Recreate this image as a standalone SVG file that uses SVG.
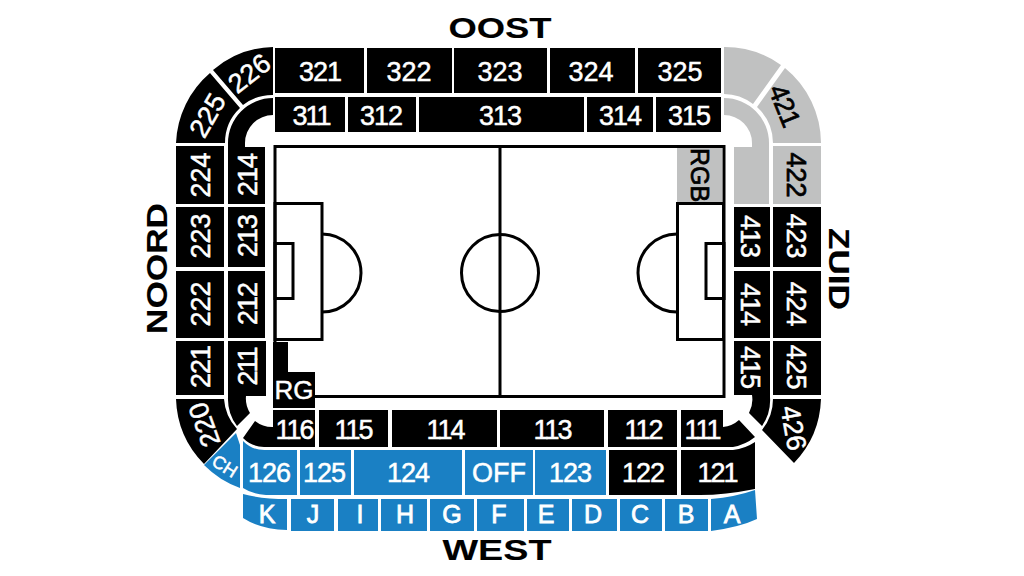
<svg xmlns="http://www.w3.org/2000/svg" width="1024" height="576" viewBox="0 0 1024 576">
<style>
.k{fill:#000}.b{fill:#1a80c4}.g{fill:#c0c1c1}
.l{fill:none;stroke:#000;stroke-width:3}
text{font-family:"Liberation Sans",Arial,sans-serif;text-anchor:middle}
.n{font-size:27px;fill:#fff;stroke:#fff;stroke-width:.5}
.d{font-size:27px;fill:#000;stroke:#000;stroke-width:.7}
.t{font-size:29px;font-weight:700;fill:#000;stroke:#000;stroke-width:.1}
.s{font-size:18px}.m{font-size:25px;stroke-width:.8}
.o{letter-spacing:-1px}.w{letter-spacing:-2px}
</style>
<rect width="1024" height="576" fill="#fff"/>
<g id="pitch">
<rect class="g" x="677" y="147" width="45" height="56"/>
<path class="k" d="M275 342H288V372H315V408H273V342Z"/>
<rect class="l" x="275" y="146.500" width="449" height="250"/>
<rect class="l" x="275" y="203.500" width="47" height="136"/>
<rect class="l" x="275" y="243.500" width="18" height="55"/>
<path class="l" d="M322 234A39 39 0 0 1 322 312"/>
<rect class="l" x="677.500" y="203.500" width="46" height="136"/>
<rect class="l" x="706" y="243.500" width="18" height="55"/>
<path class="l" d="M677 234A39 39 0 0 0 677 312"/>
<path class="l" d="M500 147V396"/>
<circle class="l" cx="500" cy="273" r="38.500"/>
<text class="d" transform="translate(700 175) rotate(90)" dy=".36em" style="font-size:25px">RGB</text>
<text class="n" transform="translate(294 390)" dy=".36em" style="font-size:26px">RG</text>
</g>
<g id="titles">
<text class="t" x="500" y="38" textLength="103" lengthAdjust="spacingAndGlyphs">OOST</text>
<text class="t" x="497" y="560" textLength="109" lengthAdjust="spacingAndGlyphs">WEST</text>
<text class="t" transform="translate(167 268.500) rotate(-90)" textLength="131" lengthAdjust="spacingAndGlyphs">NOORD</text>
<text class="t" transform="translate(829 269) rotate(90)" textLength="82" lengthAdjust="spacingAndGlyphs">ZUID</text>
</g>
<g id="s321"><rect class="k" x="275" y="48" width="89" height="45"/><text class="n o" x="320" y="71" dy=".36em">321</text></g>
<g id="s322"><rect class="k" x="367" y="48" width="85" height="45"/><text class="n" x="409" y="71" dy=".36em">322</text></g>
<g id="s323"><rect class="k" x="454" y="48" width="93" height="45"/><text class="n" x="500" y="71" dy=".36em">323</text></g>
<g id="s324"><rect class="k" x="550" y="48" width="85" height="45"/><text class="n" x="591" y="71" dy=".36em">324</text></g>
<g id="s325"><rect class="k" x="638" y="48" width="83" height="45"/><text class="n" x="680" y="71" dy=".36em">325</text></g>
<g id="s311"><rect class="k" x="275" y="97" width="70" height="35"/><text class="n w" x="311" y="115" dy=".36em">311</text></g>
<g id="s312"><rect class="k" x="348" y="97" width="68" height="35"/><text class="n o" x="381" y="115" dy=".36em">312</text></g>
<g id="s313"><rect class="k" x="419" y="97" width="165" height="35"/><text class="n o" x="500" y="115" dy=".36em">313</text></g>
<g id="s314"><rect class="k" x="587" y="97" width="66" height="35"/><text class="n o" x="620" y="115" dy=".36em">314</text></g>
<g id="s315"><rect class="k" x="656" y="97" width="65" height="35"/><text class="n o" x="689" y="115" dy=".36em">315</text></g>
<g id="s226"><path class="k" d="M273 47A96 96 0 0 0 213 70L243 105A48 48 0 0 1 273 95Z"/><text class="n" transform="translate(249 73) rotate(-38)" dy=".36em">226</text></g>
<g id="s225"><path class="k" d="M176 143A97 97 0 0 1 210 73L240 108A48 48 0 0 0 225 143Z"/><text class="n" transform="translate(207 115) rotate(-60)" dy=".36em">225</text></g>
<g id="s224"><rect class="k" x="176" y="146" width="48" height="58"/><text class="n" transform="translate(200 175) rotate(-90)" dy=".36em">224</text></g>
<g id="s223"><rect class="k" x="176" y="207" width="48" height="60"/><text class="n" transform="translate(200 236) rotate(-90)" dy=".36em">223</text></g>
<g id="s222"><rect class="k" x="176" y="271" width="48" height="67"/><text class="n" transform="translate(200 304) rotate(-90)" dy=".36em">222</text></g>
<g id="s221"><rect class="k" x="176" y="341" width="48" height="54"/><text class="n o" transform="translate(200 367) rotate(-90)" dy=".36em">221</text></g>
<g id="s220"><path class="k" d="M176 399H224A49 49 0 0 0 237 429L204 464A97 97 0 0 1 176 399Z"/><text class="n" transform="translate(204 425) rotate(-110)" dy=".36em">220</text></g>
<g id="s214"><path class="k" d="M273 98A45 45 0 0 0 228 143V204H265V147H245V143A28 28 0 0 1 273 115Z"/><text class="n o" transform="translate(247 175) rotate(-90)" dy=".36em">214</text></g>
<g id="s213"><rect class="k" x="228" y="207" width="37" height="60"/><text class="n o" transform="translate(247 236) rotate(-90)" dy=".36em">213</text></g>
<g id="s212"><rect class="k" x="228" y="271" width="37" height="67"/><text class="n o" transform="translate(247 304) rotate(-90)" dy=".36em">212</text></g>
<g id="s211"><path class="k" d="M228 341H266V396H246A27 27 0 0 0 250 413L237 426A45 45 0 0 1 228 397Z"/><text class="n w" transform="translate(247 367) rotate(-90)" dy=".36em">211</text></g>
<g id="s421b"><path class="g" d="M724 47A97 97 0 0 1 781 65L753 104A49 49 0 0 0 724 94Z"/></g>
<g id="s421"><path class="g" d="M821 143A97 97 0 0 0 785 68L757 107A49 49 0 0 1 773 143Z"/><text class="d o" transform="translate(785 105) rotate(68)" dy=".36em">421</text></g>
<g id="s411"><path class="g" d="M724 98A45 45 0 0 1 769 143V204H734V147H752V143A28 28 0 0 0 724 115Z"/></g>
<g id="s422"><rect class="g" x="773" y="146" width="48" height="58"/><text class="d" transform="translate(797 175) rotate(90)" dy=".36em">422</text></g>
<g id="s423"><rect class="k" x="773" y="207" width="48" height="60"/><text class="n" transform="translate(797 236) rotate(90)" dy=".36em">423</text></g>
<g id="s424"><rect class="k" x="773" y="271" width="48" height="67"/><text class="n" transform="translate(797 304) rotate(90)" dy=".36em">424</text></g>
<g id="s425"><rect class="k" x="773" y="341" width="48" height="54"/><text class="n" transform="translate(797 367) rotate(90)" dy=".36em">425</text></g>
<g id="s426"><path class="k" d="M773 399H821A97 97 0 0 1 794 463L762 430A49 49 0 0 0 773 399Z"/><text class="n" transform="translate(794 428) rotate(80)" dy=".36em">426</text></g>
<g id="s413"><rect class="k" x="734" y="207" width="36" height="60"/><text class="n o" transform="translate(751 236) rotate(90)" dy=".36em">413</text></g>
<g id="s414"><rect class="k" x="734" y="271" width="36" height="67"/><text class="n o" transform="translate(751 304) rotate(90)" dy=".36em">414</text></g>
<g id="s415"><path class="k" d="M734 341H770V397A45 45 0 0 1 762 426L749 413A28 28 0 0 0 752 395H734Z"/><text class="n o" transform="translate(751 367) rotate(90)" dy=".36em">415</text></g>
<g id="s116"><path class="k" d="M273 410H315V447H264A30 30 0 0 1 243 438L255 421A28 28 0 0 0 273 427Z"/><text class="n w" x="294" y="429" dy=".36em">116</text></g>
<g id="s115"><rect class="k" x="319" y="410" width="69" height="37"/><text class="n w" x="353" y="429" dy=".36em">115</text></g>
<g id="s114"><rect class="k" x="392" y="410" width="105" height="37"/><text class="n w" x="445" y="429" dy=".36em">114</text></g>
<g id="s113"><rect class="k" x="500" y="410" width="104" height="37"/><text class="n w" x="552" y="429" dy=".36em">113</text></g>
<g id="s112"><rect class="k" x="608" y="410" width="69" height="37"/><text class="n w" x="643" y="429" dy=".36em">112</text></g>
<g id="s111"><path class="k" d="M681 410H723V427A28 28 0 0 0 739 420L755 437A49 49 0 0 1 733 447H681Z"/><text class="n w" x="702" y="429" dy=".36em">111</text></g>
<g id="sCH"><path class="b" d="M236 433L240 445V488A97 97 0 0 1 204 465Z"/><text class="n s" transform="translate(225 466) rotate(32)" dy=".36em">CH</text></g>
<g id="s126"><path class="b" d="M243 441A30 30 0 0 0 265 450H297V495H266Q252 494 243 488Z"/><text class="n o" x="269" y="472" dy=".36em">126</text></g>
<g id="s125"><rect class="b" x="300" y="450" width="51" height="45"/><text class="n o" x="324" y="472" dy=".36em">125</text></g>
<g id="s124"><rect class="b" x="354" y="450" width="108" height="45"/><text class="n o" x="408" y="472" dy=".36em">124</text></g>
<g id="sOFF"><rect class="b" x="465" y="450" width="68" height="45"/><text class="n" x="499" y="472" dy=".36em">OFF</text></g>
<g id="s123"><rect class="b" x="535" y="450" width="71" height="45"/><text class="n o" x="570" y="472" dy=".36em">123</text></g>
<g id="s122"><rect class="k" x="609" y="450" width="68" height="45"/><text class="n o" x="643" y="472" dy=".36em">122</text></g>
<g id="s121"><path class="k" d="M681 450H733A49 49 0 0 0 755 442V489Q725 495 700 495H681Z"/><text class="n w" x="717" y="472" dy=".36em">121</text></g>
<g id="sK"><path class="b" d="M243 494Q262 499 287 499V530Q260 529 243 518Z"/><text class="n m" x="267" y="514" dy=".36em">K</text></g>
<g id="sJ"><rect class="b" x="291" y="499" width="43" height="32"/><text class="n m" x="313" y="514" dy=".36em">J</text></g>
<g id="sI"><rect class="b" x="338" y="499" width="40" height="32"/><text class="n m" x="360" y="514" dy=".36em">I</text></g>
<g id="sH"><rect class="b" x="381" y="499" width="46" height="32"/><text class="n m" x="405" y="514" dy=".36em">H</text></g>
<g id="sG"><rect class="b" x="430" y="499" width="44" height="32"/><text class="n m" x="452" y="514" dy=".36em">G</text></g>
<g id="sF"><rect class="b" x="477" y="499" width="47" height="32"/><text class="n m" x="499" y="514" dy=".36em">F</text></g>
<g id="sE"><rect class="b" x="527" y="499" width="42" height="32"/><text class="n m" x="546" y="514" dy=".36em">E</text></g>
<g id="sD"><rect class="b" x="572" y="499" width="45" height="32"/><text class="n m" x="593" y="514" dy=".36em">D</text></g>
<g id="sC"><rect class="b" x="620" y="499" width="42" height="32"/><text class="n m" x="640" y="514" dy=".36em">C</text></g>
<g id="sB"><rect class="b" x="665" y="499" width="43" height="32"/><text class="n m" x="686" y="514" dy=".36em">B</text></g>
<g id="sA"><path class="b" d="M711 499Q735 497 755 490L757 519Q740 527 711 531Z"/><text class="n m" x="732" y="514" dy=".36em">A</text></g>
</svg>
